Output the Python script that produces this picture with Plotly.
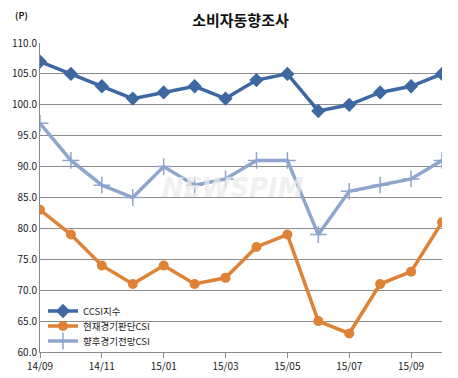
import plotly.graph_objects as go

months = list(range(14))
tick_pos = [0, 2, 4, 6, 8, 10, 12]
tick_labels = ["14/09", "14/11", "15/01", "15/03", "15/05", "15/07", "15/09"]
ccsi = [107, 105, 103, 101, 102, 103, 101, 104, 105, 99, 100, 102, 103, 105]
current = [83, 79, 74, 71, 74, 71, 72, 77, 79, 65, 63, 71, 73, 81]
outlook = [97, 91, 87, 85, 90, 87, 88, 91, 91, 79, 86, 87, 88, 91]
names = ["CCSI지수", "현재경기판단CSI", "향후경기전망CSI"]

font = "Noto Sans CJK KR"
fig = go.Figure()
fig.add_trace(go.Scatter(x=months, y=ccsi, name=names[0], mode="lines+markers",
                         legend="legend",
                         line=dict(color="#3E68A2", width=3.5),
                         marker=dict(symbol="diamond", size=11, color="#3E68A2")))
fig.add_trace(go.Scatter(x=months, y=current, name=names[1], mode="lines+markers",
                         legend="legend2",
                         line=dict(color="#DE8236", width=3.5),
                         marker=dict(symbol="circle", size=10, color="#DE8236")))
fig.add_trace(go.Scatter(x=months, y=outlook, name=names[2], mode="lines+markers",
                         legend="legend3",
                         line=dict(color="#8EA5CD", width=3.5),
                         marker=dict(symbol="cross-thin", size=12,
                                     line=dict(color="#8EA5CD", width=1.5))))

leg = dict(x=0.0075, xanchor="left", yanchor="middle", bgcolor="rgba(0,0,0,0)",
           font=dict(size=9.5, family=font), itemwidth=30, borderwidth=0)

fig.update_layout(
    width=458, height=378,
    margin=dict(l=40, r=16, t=43, b=26, autoexpand=False),
    paper_bgcolor="white", plot_bgcolor="white",
    font=dict(family=font, size=10, color="#222222"),
    title=dict(text="<b>소비자동향조사</b>", x=0.525, xanchor="center", y=0.945,
               yanchor="middle", font=dict(size=15, color="#111111")),
    showlegend=True,
    legend=dict(leg, y=0.1327),
    legend2=dict(leg, y=0.0841),
    legend3=dict(leg, y=0.0356),
    xaxis=dict(range=[0, 13], tickvals=tick_pos, ticktext=tick_labels,
               showgrid=False, showline=True, linecolor="#888888", linewidth=1,
               ticks="outside", ticklen=5, tickcolor="#888888", zeroline=False,
               automargin=False, tickfont=dict(size=10, family=font)),
    yaxis=dict(range=[60, 110], dtick=5, tickformat=".1f",
               showgrid=True, gridcolor="#8C8C8C", gridwidth=1,
               showline=True, linecolor="#888888", linewidth=1,
               ticks="", zeroline=False, automargin=False,
               tickfont=dict(size=10, family=font)),
    annotations=[
        dict(text="<b>(P)</b>", x=-0.045, y=1.09, xref="paper", yref="paper",
             xanchor="center", yanchor="middle",
             showarrow=False, font=dict(size=9, color="#222222")),
        dict(text="<b><i>NEWSPIM</i></b>", x=0.48, y=0.53, xref="paper", yref="paper",
             showarrow=False, font=dict(size=26, color="rgba(235,235,235,0.75)",
                                        family="DejaVu Sans")),
    ],
)
fig.write_html("out.html", config={"displayModeBar": False},
               post_script="document.body.style.margin='0';document.body.style.overflow='hidden';")
